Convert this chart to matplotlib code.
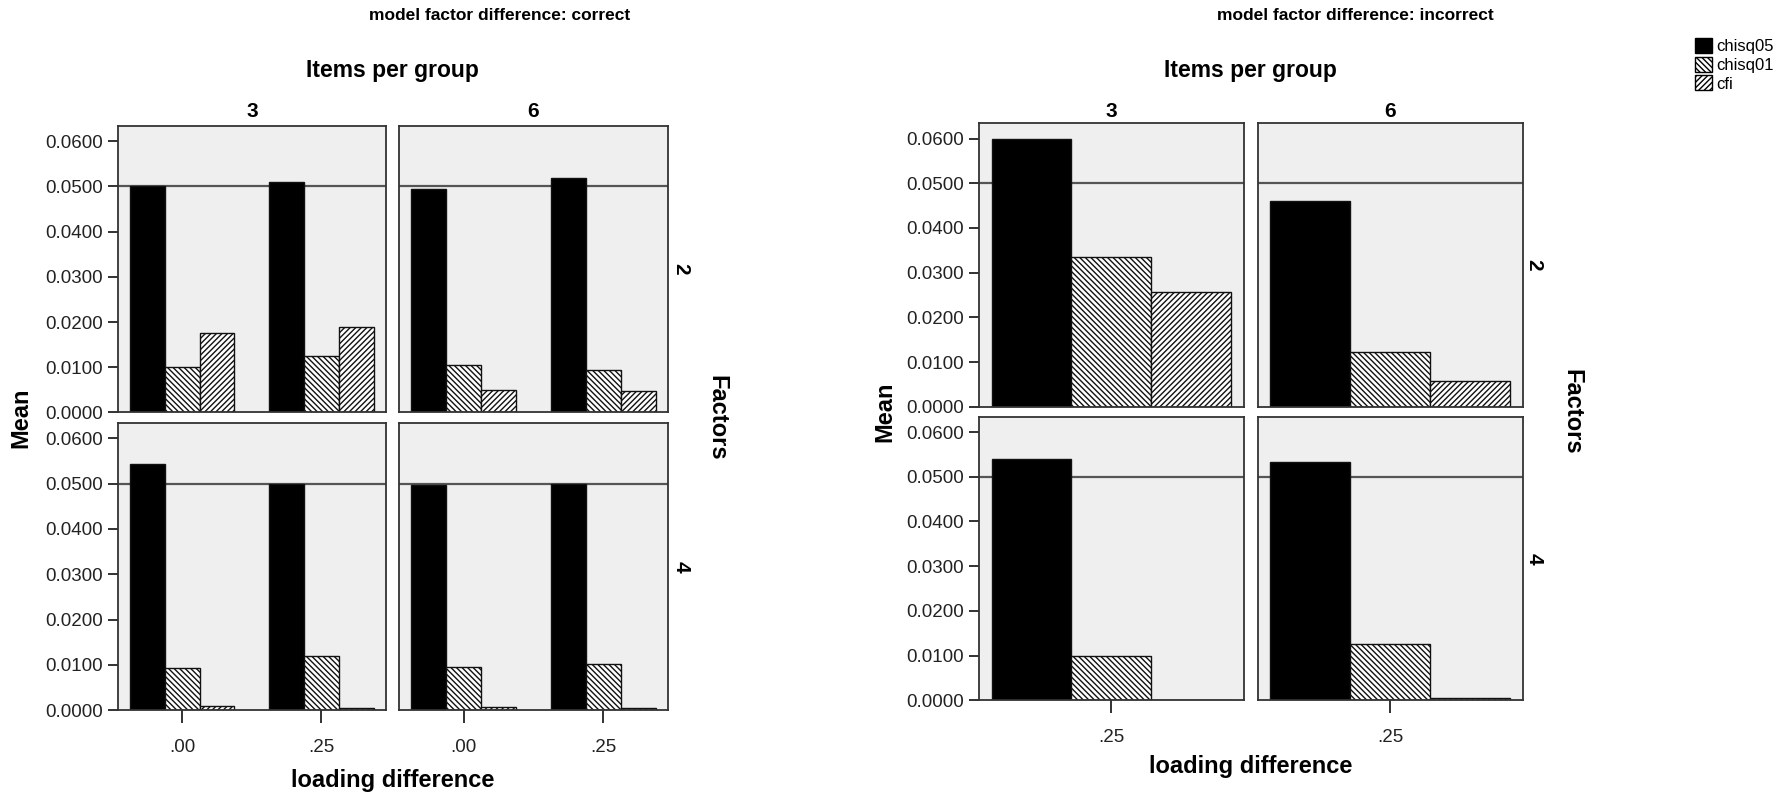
import numpy as np
import matplotlib
matplotlib.use("Agg")
import matplotlib.pyplot as plt
from matplotlib.ticker import FormatStrFormatter
from matplotlib.patches import Patch

plt.rcParams['font.family'] = ['Liberation Sans', 'DejaVu Sans']
plt.rcParams['hatch.linewidth'] = 1.0

series = ['chisq05', 'chisq01', 'cfi']
hatches = ['', '\\\\\\\\\\\\', '//////']
faces = ['black', 'white', 'white']

items = ['3', '6']
factors = ['2', '4']
load_correct = ['.00', '.25']
load_incorrect = ['.25']

# model factor difference: correct  (rows = series, cols = loading difference)
correct_f2_i3 = [[0.0500, 0.0510], [0.0100, 0.0124], [0.0175, 0.0188]]
correct_f2_i6 = [[0.0495, 0.0519], [0.0104, 0.0094], [0.0049, 0.0048]]
correct_f4_i3 = [[0.0542, 0.0500], [0.0093, 0.0119], [0.0009, 0.0004]]
correct_f4_i6 = [[0.0497, 0.0500], [0.0095, 0.0101], [0.0008, 0.0004]]

# model factor difference: incorrect
incorrect_f2_i3 = [[0.0599], [0.0335], [0.0256]]
incorrect_f2_i6 = [[0.0460], [0.0122], [0.0058]]
incorrect_f4_i3 = [[0.0540], [0.0099], [0.0001]]
incorrect_f4_i6 = [[0.0534], [0.0125], [0.0005]]

ref_line = 0.05

fig = plt.figure(figsize=(17.91, 7.93), dpi=100)
W, H = 1568.0, 694.0


def panel(rect, vals, cats, xlim, show_y, show_x):
    ax = fig.add_axes(rect)
    ax.set_facecolor('#efefef')
    x = np.arange(len(cats))
    ax.axhline(ref_line, color='#555555', lw=1.6, zorder=1)
    for i, s in enumerate(series):
        ax.bar(x + (i - 1) * 0.25, vals[i], width=0.25, color=faces[i],
               edgecolor='#111111', hatch=hatches[i], linewidth=1.0, zorder=2)
    ax.set_xlim(*xlim)
    ax.set_ylim(0, 0.0634)
    ax.set_yticks(np.arange(0, 0.061, 0.01))
    ax.yaxis.set_major_formatter(FormatStrFormatter('%.4f'))
    ax.set_xticks(x)
    ax.set_xticklabels(cats)
    for sp in ax.spines.values():
        sp.set_color('#333333')
        sp.set_linewidth(1.3)
    ax.tick_params(axis='y', length=7, width=1.3, labelsize=13.5,
                   labelleft=show_y, left=show_y, colors='#222222')
    ax.tick_params(axis='x', length=9, width=1.3, labelsize=13.5, pad=12,
                   labelbottom=show_x, bottom=show_x, colors='#222222')
    return ax


def chart(x0, x1, x2, x3, ytop, ymid1, ymid2, ybot, data, cats, xlim,
          title, title_x, fac_x, factors_x, mean_x, load_y):
    rows = [(ytop, ymid1), (ymid2, ybot)]
    cols = [(x0, x1), (x2, x3)]
    for r, (yt, yb) in enumerate(rows):
        for c, (xl, xr) in enumerate(cols):
            rect = [xl / W, 1 - yb / H, (xr - xl) / W, (yb - yt) / H]
            panel(rect, data[r][c], cats, xlim, c == 0, r == 1)
        fig.text(fac_x / W, 1 - (yt + yb) / 2 / H, factors[r], rotation=-90,
                 ha='center', va='center', fontsize=15, fontweight='bold')
    for c, (xl, xr) in enumerate(cols):
        fig.text((xl + xr) / 2 / W, 1 - 98 / H, items[c], ha='center',
                 va='center', fontsize=15, fontweight='bold')
    cx = (x0 + x3) / 2 / W
    fig.text(title_x / W, 1 - 14 / H, title, ha='center', va='center',
             fontsize=12.5, fontweight='bold')
    fig.text(cx, 1 - 62 / H, 'Items per group', ha='center', va='center',
             fontsize=16.5, fontweight='bold')
    ymid = 1 - (ytop + ybot) / 2 / H
    fig.text(factors_x / W, ymid, 'Factors', rotation=-90, ha='center',
             va='center', fontsize=17, fontweight='bold')
    fig.text(mean_x / W, ymid, 'Mean', rotation=90, ha='center',
             va='center', fontsize=17, fontweight='bold')
    fig.text(cx, 1 - load_y / H, 'loading difference', ha='center',
             va='center', fontsize=17, fontweight='bold')


chart(103, 338, 349, 585, 110, 361, 370, 621.6,
      [[correct_f2_i3, correct_f2_i6], [correct_f4_i3, correct_f4_i6]],
      load_correct, (-0.465, 1.465),
      'model factor difference: correct', 437.7, 596, 628, 18, 683)

chart(857, 1089, 1101, 1333, 108, 356, 364.8, 612.9,
      [[incorrect_f2_i3, incorrect_f2_i6], [incorrect_f4_i3, incorrect_f4_i6]],
      load_incorrect, (-0.415, 0.415),
      'model factor difference: incorrect', 1187, 1343, 1376, 775, 671)

handles = [Patch(facecolor=faces[i], edgecolor='black', hatch=hatches[i], label=s)
           for i, s in enumerate(series)]
fig.legend(handles=handles, loc='upper left', bbox_to_anchor=(1477 / W, 1 - 26 / H),
           frameon=False, fontsize=12, handlelength=1.0, handleheight=1.0,
           handletextpad=0.25, labelspacing=0.15, borderpad=0)

fig.savefig('out.png', dpi=100)
